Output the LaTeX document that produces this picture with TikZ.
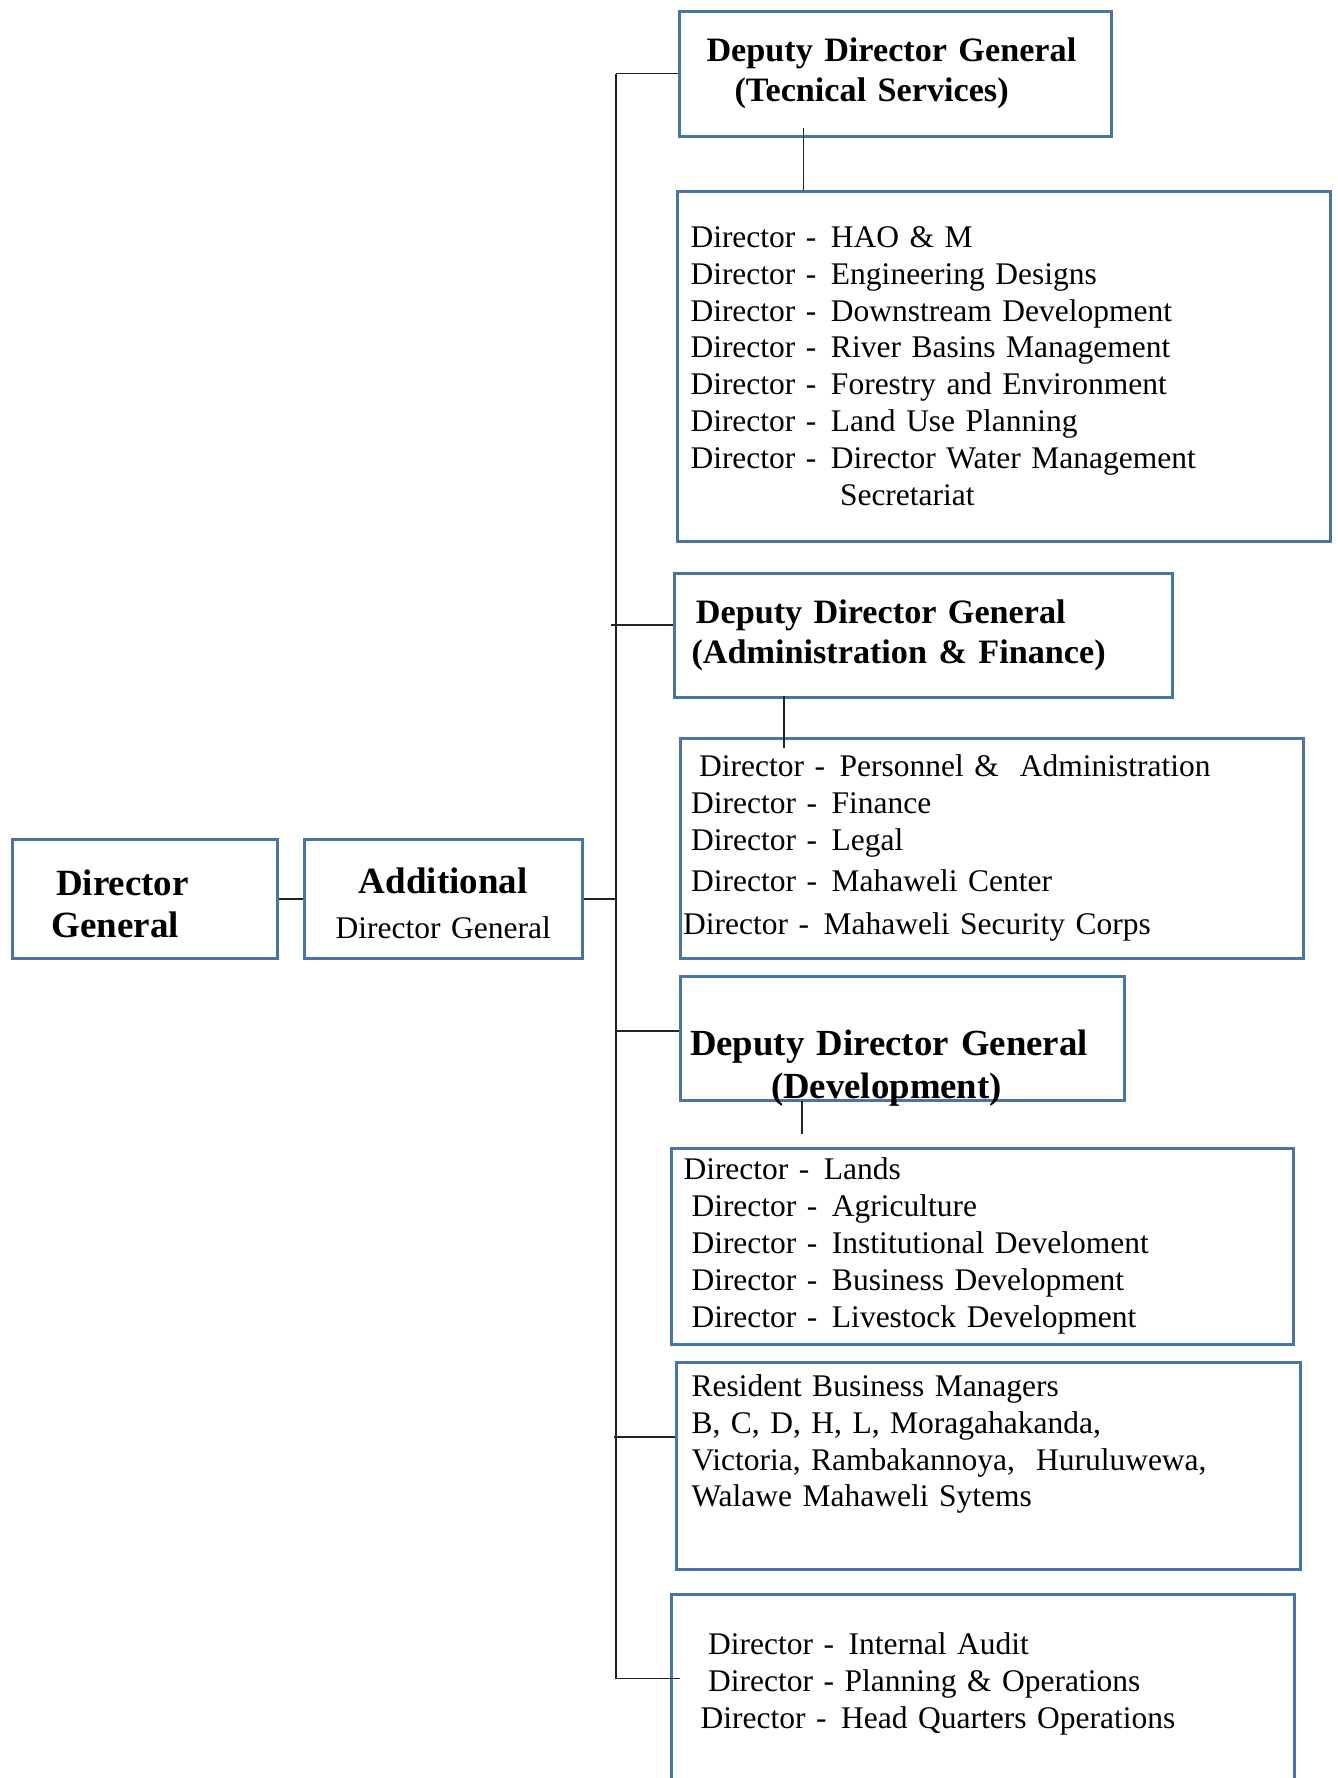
\documentclass[tikz,border=0pt]{standalone}
\usepackage{fontspec}
\setmainfont{Liberation Serif}
\definecolor{boxblue}{RGB}{74,116,165}
\definecolor{linkgray}{RGB}{35,35,35}
\newcommand{\listfont}{\fontsize{31.5}{36.8}\selectfont}
\newcommand{\headfont}{\bfseries\fontsize{34.2}{40}\selectfont}
\newcommand{\dgfont}{\bfseries\fontsize{37}{42}\selectfont}
\newcommand{\devfont}{\bfseries\fontsize{36.8}{43}\selectfont}
\newcommand{\dirof}[1]{\makebox[140.5pt][l]{Director -}#1}

\begin{document}
\begin{tikzpicture}[x=1pt, y=-1pt,
  unitbox/.style={draw=boxblue, line width=3pt, anchor=north west, align=left,
                  inner ysep=0pt, font=\listfont},
  headbox/.style={unitbox, font=\headfont},
  link/.style={draw=linkgray, line width=1.5pt}]
  \useasboundingbox (1,1.5) rectangle (1339,1779.5);
  \clip (1,1.5) rectangle (1339,1779.5);

  % left chain
  \node[unitbox, font=\dgfont, minimum width=265pt, minimum height=119pt,
        inner xsep=39pt, text width=187pt]
    (dg) at (12,839.5) {\rule{0pt}{35pt}\hspace*{4.5pt}Director\\General};
  \node[unitbox, align=center, minimum width=278.5pt, minimum height=119pt,
        inner xsep=0pt, text width=278.5pt]
    (adg) at (303.5,839.5) {\rule{0pt}{35pt}{\dgfont Additional}\\[8pt]Director General};

  % technical services
  \node[headbox, minimum width=432pt, minimum height=125pt,
        inner xsep=27pt, text width=378pt]
    (ddgtech) at (679,11) {Deputy Director General\\\hspace*{28pt}(Tecnical Services)};
  \node[unitbox, minimum width=653pt, minimum height=350pt,
        inner xsep=13pt, text width=627pt]
    (techlist) at (677,191) {\dirof{HAO \& M}\\
      \dirof{Engineering Designs}\\
      \dirof{Downstream Development}\\
      \dirof{River Basins Management}\\
      \dirof{Forestry and Environment}\\
      \dirof{Land Use Planning}\\
      \dirof{Director Water Management}\\
      \hspace*{149.5pt}Secretariat};

  % administration and finance
  \node[headbox, minimum width=498pt, minimum height=124pt,
        inner xsep=17pt, text width=464pt]
    (ddgadmin) at (674,573) {\hspace*{4.4pt}Deputy Director General\\(Administration \& Finance)};
  \node[unitbox, minimum width=623pt, minimum height=220pt,
        inner xsep=10.6pt, text width=601.8pt]
    (adminlist) at (680,738) {\hspace*{8pt}\dirof{Personnel \& \ Administration}\\
      \dirof{Finance}\\
      \dirof{Legal}\\[5pt]
      \dirof{Mahaweli Center}\\[6pt]
      \hspace*{-8pt}\dirof{Mahaweli Security Corps}};

  % development
  \node[unitbox, font=\devfont, minimum width=444pt, minimum height=124pt,
        inner xsep=9.4pt, text width=425pt]
    (ddgdev) at (680,976.5) {\rule{0pt}{76pt}Deputy Director General\\\hspace*{81pt}\smash{(Development)}};
  \node[unitbox, minimum width=622pt, minimum height=196pt,
        inner xsep=20pt, text width=582pt]
    (devlist) at (671,1148) {\hspace*{-8pt}\dirof{Lands}\\
      \dirof{Agriculture}\\
      \dirof{Institutional Develoment}\\
      \dirof{Business Development}\\
      \dirof{Livestock Development}};

  \node[unitbox, minimum width=623.5pt, minimum height=207.5pt,
        inner xsep=15pt, text width=593.5pt]
    (rbm) at (676,1362) {Resident Business Managers\\
      B, C, D, H, L, Moragahakanda,\\
      Victoria, Rambakannoya,\ \ Huruluwewa,\\
      Walawe Mahaweli Sytems\\[13pt]\mbox{}};

  \node[unitbox, minimum width=623pt, minimum height=260pt,
        inner xsep=29.2pt, text width=564.6pt]
    (hq) at (671,1594) {\hspace*{7.5pt}\dirof{Internal Audit}\\
      \hspace*{7.5pt}Director - Planning \& Operations\\
      \dirof{Head Quarters Operations}\\[50pt]\mbox{}};

  % trunk and branches
  \coordinate (trunkx) at (617,0);
  \coordinate (trunktop) at (ddgtech.west -| trunkx);
  \coordinate (trunkbot) at (617,1680);
  \coordinate (admtap) at ([yshift=10pt]ddgadmin.west);
  \coordinate (devtap) at ([yshift=7.5pt]ddgdev.west);
  \coordinate (rbmtap) at ([yshift=29pt]rbm.west);
  \coordinate (techdown) at ([xshift=125.7pt,yshift=10pt]ddgtech.south west);
  \coordinate (admdown) at ([xshift=111pt,yshift=3pt]ddgadmin.south west);
  \coordinate (devdown) at ([xshift=123pt,yshift=1.5pt]ddgdev.south west);

  \draw[link] (trunktop) -- (trunkbot);
  \draw[link] (dg) -- (adg);
  \draw[link] (adg.east) -- (adg.east -| trunkx);
  \draw[link] (ddgtech.west) -- (trunktop);
  \draw[link] (admtap) -- ([xshift=-5pt]admtap -| trunkx);
  \draw[link] (devtap) -- (devtap -| trunkx);
  \draw[link] (rbmtap) -- ([xshift=-2pt]rbmtap -| trunkx);
  \draw[link] (trunkbot) -- ([xshift=10pt]hq.west |- trunkbot);
  \draw[link] (techdown) -- (techdown |- techlist.north);
  \draw[link] (admdown) -- ([yshift=-11pt]admdown |- adminlist.north);
  \draw[link] (devdown) -- ([yshift=13pt]devdown |- devlist.north);
\end{tikzpicture}
\end{document}
